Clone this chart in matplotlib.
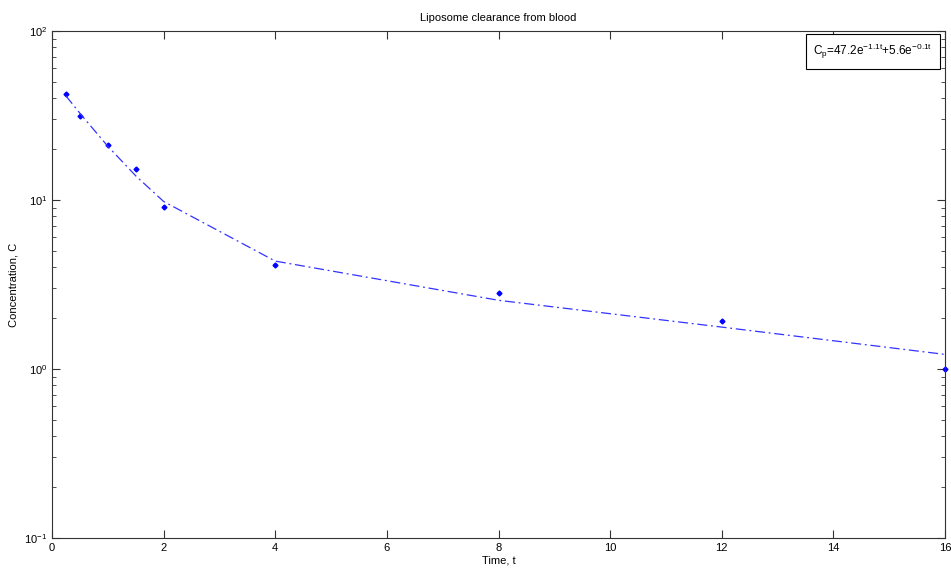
"""
    Liposome clearance from blood (semilog plot)
"""

import matplotlib
matplotlib.use("Agg")
import matplotlib.pyplot as plt

# measured concentrations
t_data = [0.25, 0.5, 1, 1.5, 2, 4, 8, 12, 16]
c_data = [42.4, 31.4, 21.1, 15.2, 9.1, 4.1, 2.82, 1.92, 1.0]

# fitted curve
t_fit = [0.25, 0.5, 1, 1.5, 2, 4, 8, 12, 16]
c_fit = [41.3, 32.6, 20.8, 13.9, 9.8, 4.35, 2.55, 1.77, 1.22]

fit_label = (r"C$_\mathregular{p}$=47.2e$^\mathregular{-1.1t}$"
             r"+5.6e$^\mathregular{-0.1t}$")

plt.rcParams["font.family"] = ["Liberation Sans", "DejaVu Sans"]
plt.rcParams["font.size"] = 8
plt.rcParams["axes.unicode_minus"] = False

fig = plt.figure(figsize=(9.51, 5.71), dpi=100)
ax = fig.add_axes([52 / 951, 1 - 538 / 571, 893 / 951, 507 / 571])

ax.semilogy(t_data, c_data, linestyle="none", marker="D", markersize=2.5,
            color="#0000ff", clip_on=False)
ax.semilogy(t_fit, c_fit, linestyle="-.", linewidth=0.9, color="#3333ff",
            dashes=(8, 3, 1.5, 3))

ax.set_xlim(0, 16)
ax.set_ylim(0.1, 100)
ax.set_xticks(range(0, 17, 2))

ax.tick_params(which="both", direction="in", top=True, right=True,
               color="#333333", labelsize=8)
ax.tick_params(which="major", length=6)
ax.tick_params(which="minor", length=3)
for s in ax.spines.values():
    s.set_color("#333333")
    s.set_linewidth(0.8)

ax.set_title("Liposome clearance from blood", fontsize=8, pad=7)
ax.set_xlabel("Time, t", labelpad=2)
ax.set_ylabel("Concentration, C", labelpad=4)

ax.text(0.986, 0.978, fit_label, transform=ax.transAxes, ha="right", va="top",
        fontsize=8.5,
        bbox=dict(boxstyle="square,pad=0.65", facecolor="white",
                  edgecolor="black", linewidth=0.8))

fig.savefig("out.png", dpi=100)
